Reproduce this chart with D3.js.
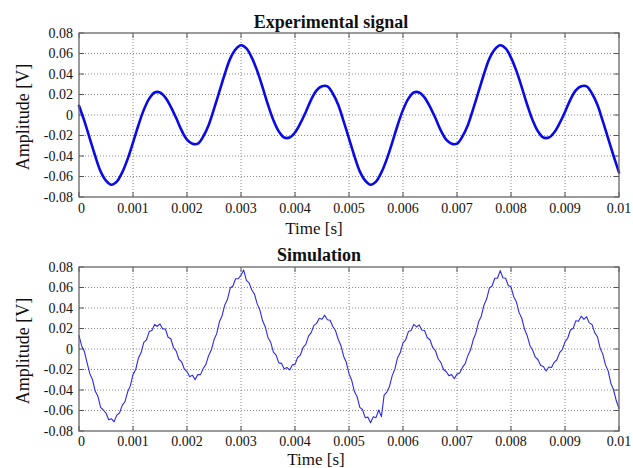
<!DOCTYPE html>
<html><head><meta charset="utf-8">
<script src="https://cdn.jsdelivr.net/npm/d3@7/dist/d3.min.js"></script>
<style>
body{margin:0;background:#fff}
svg{display:block}
</style>
</head><body>
<svg id="c" width="633" height="468"></svg>
<script>
// Experimental signal, one sample every 0.0001 s (0 .. 0.01 s)
const expValues=[0.009,-0.006,-0.023,-0.040,-0.055,-0.064,-0.068,-0.065,-0.056,-0.043,
-0.027,-0.010,0.005,0.016,0.022,0.022,0.017,0.008,-0.003,-0.015,
-0.024,-0.028,-0.028,-0.021,-0.010,0.006,0.023,0.040,0.055,0.064,
0.068,0.065,0.056,0.043,0.027,0.010,-0.005,-0.016,-0.022,-0.022,
-0.017,-0.008,0.003,0.015,0.024,0.028,0.028,0.021,0.010,-0.006,
-0.023,-0.040,-0.055,-0.064,-0.068,-0.065,-0.056,-0.043,-0.027,-0.010,
0.005,0.016,0.022,0.022,0.017,0.008,-0.003,-0.015,-0.024,-0.028,
-0.028,-0.021,-0.010,0.006,0.023,0.040,0.055,0.064,0.068,0.065,
0.056,0.043,0.027,0.010,-0.005,-0.016,-0.022,-0.022,-0.017,-0.008,
0.003,0.015,0.024,0.028,0.028,0.021,0.010,-0.006,-0.023,-0.040,-0.056];
const expStep=0.0001;

// Simulation, one sample every 0.00005 s (0 .. 0.01 s), noisy trace
const simValues=[0.013,0.003,-0.0025,-0.0135,-0.024,-0.030,-0.041,-0.046,-0.057,-0.0595,
-0.0625,-0.069,-0.068,-0.071,-0.0645,-0.0625,-0.055,-0.0515,-0.042,-0.036,
-0.025,-0.020,-0.009,-0.0035,0.0065,0.009,0.017,0.018,0.024,0.022,
0.0245,0.0195,0.0195,0.0115,0.010,0.0015,-0.002,-0.010,-0.0125,-0.0195,
-0.022,-0.027,-0.0255,-0.030,-0.025,-0.025,-0.019,-0.015,-0.0065,-0.001,
0.009,0.015,0.0265,0.0325,0.043,0.0485,0.0595,0.0615,0.0685,0.0685,
0.072,0.077,0.067,0.0645,0.0575,0.0535,0.044,0.038,0.0275,0.0215,
0.011,0.0065,-0.003,-0.006,-0.0135,-0.014,-0.0195,-0.018,-0.0205,-0.0155,
-0.015,-0.008,-0.006,0.0015,0.0045,0.0125,0.016,0.023,0.025,0.030,
0.029,0.033,0.0285,0.028,0.022,0.018,0.0095,0.0035,-0.007,-0.013,
-0.024,-0.0305,-0.0415,-0.0465,-0.057,-0.059,-0.067,-0.0665,-0.072,-0.066,
-0.067,-0.0595,-0.066,-0.045,-0.042,-0.0365,-0.026,-0.0195,-0.0085,-0.0035,
0.006,0.009,0.017,0.018,0.024,0.0215,0.0235,0.0185,0.018,0.011,
0.009,0.0015,-0.0015,-0.0095,-0.013,-0.020,-0.022,-0.026,-0.025,-0.029,
-0.0245,-0.0235,-0.018,-0.0145,-0.0065,-0.001,0.009,0.0155,0.0265,0.032,
0.043,0.049,0.0595,0.0615,0.069,0.069,0.0765,0.0695,0.069,0.062,
0.0605,0.051,0.046,0.0355,0.030,0.0195,0.013,0.0035,-0.001,-0.008,
-0.0105,-0.016,-0.017,-0.0215,-0.0175,-0.018,-0.013,-0.0105,-0.0035,-0.0005,
0.007,0.0105,0.0185,0.020,0.0275,0.027,0.032,0.029,0.0315,0.0255,
0.024,0.016,0.012,0.001,-0.005,-0.0155,-0.0215,-0.0335,-0.040,-0.0505,
-0.058];
const simStep=0.00005;

const xTicks=[0,0.001,0.002,0.003,0.004,0.005,0.006,0.007,0.008,0.009,0.01];
const xTickLabels=["0","0.001","0.002","0.003","0.004","0.005","0.006","0.007","0.008","0.009","0.01"];
const yTicks=[0.08,0.06,0.04,0.02,0,-0.02,-0.04,-0.06,-0.08];
const yTickLabels=["0.08","0.06","0.04","0.02","0","-0.02","-0.04","-0.06","-0.08"];
const titles=["Experimental signal","Simulation"];
const xLabel="Time [s]";
const yLabel="Amplitude [V]";

const FONT="'Liberation Serif', 'Times New Roman', Times, 'DejaVu Serif', serif";
const svg=d3.select("#c").attr("font-family",FONT);
const L=79,R=619;
const panels=[
  {top:33,bottom:197,title:titles[0],values:expValues,step:expStep,color:"#0a0ae6",width:2.6,titleX:331,titleY:28,tickY:213,xlabX:314,xlabY:234},
  {top:267,bottom:431,title:titles[1],values:simValues,step:simStep,color:"#2b2be8",width:1.1,titleX:319,titleY:261,tickY:446,xlabX:316,xlabY:465}
];

function txt(g){return g.append("text").attr("font-family",FONT).attr("fill","#111");}

panels.forEach(p=>{
  const x=d3.scaleLinear().domain([0,0.01]).range([L,R]);
  const y=d3.scaleLinear().domain([-0.08,0.08]).range([p.bottom,p.top]);
  const g=svg.append("g");
  g.selectAll(".vg").data(xTicks.slice(1,-1)).join("line")
    .attr("x1",d=>x(d)).attr("x2",d=>x(d)).attr("y1",p.top).attr("y2",p.bottom)
    .attr("stroke","#8a8a8a").attr("stroke-width",1).attr("stroke-dasharray","1,2");
  g.selectAll(".hg").data(yTicks.slice(1,-1)).join("line")
    .attr("y1",d=>y(d)).attr("y2",d=>y(d)).attr("x1",L).attr("x2",R)
    .attr("stroke","#8a8a8a").attr("stroke-width",1).attr("stroke-dasharray","1,2");
  xTicks.forEach(t=>{
    g.append("line").attr("x1",x(t)).attr("x2",x(t)).attr("y1",p.top).attr("y2",p.top+5).attr("stroke","#555");
    g.append("line").attr("x1",x(t)).attr("x2",x(t)).attr("y1",p.bottom).attr("y2",p.bottom-5).attr("stroke","#555");
  });
  yTicks.forEach(t=>{
    g.append("line").attr("y1",y(t)).attr("y2",y(t)).attr("x1",L).attr("x2",L+5).attr("stroke","#555");
    g.append("line").attr("y1",y(t)).attr("y2",y(t)).attr("x1",R).attr("x2",R-5).attr("stroke","#555");
  });
  const line=d3.line().x((d,i)=>x(i*p.step)).y(d=>y(d));
  if(p.width>2) line.curve(d3.curveCatmullRom.alpha(0.5));
  g.append("path").datum(p.values).attr("d",line)
    .attr("fill","none").attr("stroke",p.color).attr("stroke-width",p.width)
    .attr("stroke-linejoin","round").attr("stroke-linecap","round");
  g.append("rect").attr("x",L).attr("y",p.top).attr("width",R-L).attr("height",p.bottom-p.top)
    .attr("fill","none").attr("stroke","#666").attr("stroke-width",1.3);
  xTicks.forEach((d,i)=>{
    txt(g).attr("x",x(d)+(i===0?-1:0)).attr("y",p.tickY)
      .attr("text-anchor",i===0?"start":"middle").attr("font-size",14).text(xTickLabels[i]);
  });
  yTicks.forEach((d,i)=>{
    txt(g).attr("x",73).attr("y",y(d)).attr("dy","0.35em").attr("text-anchor","end")
      .attr("font-size",14).text(yTickLabels[i]);
  });
  txt(g).attr("x",p.titleX).attr("y",p.titleY).attr("text-anchor","middle")
    .attr("font-size",18).attr("font-weight","bold").text(p.title);
  txt(g).attr("x",p.xlabX).attr("y",p.xlabY).attr("text-anchor","middle")
    .attr("font-size",17).text(xLabel);
  txt(g).attr("transform",`translate(29,${(p.top+p.bottom)/2+2}) rotate(-90)`)
    .attr("text-anchor","middle").attr("font-size",18).text(yLabel);
});
</script>
</body></html>
